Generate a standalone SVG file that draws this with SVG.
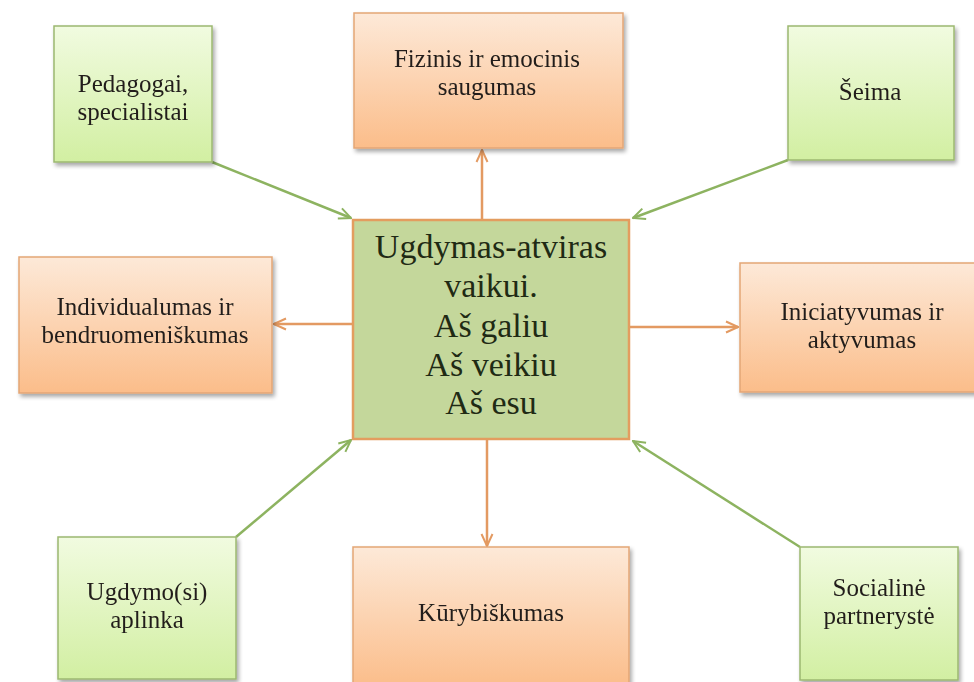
<svg xmlns="http://www.w3.org/2000/svg" width="974" height="682" viewBox="0 0 974 682">
<defs>
<linearGradient id="gOrange" x1="0" y1="0" x2="0" y2="1">
<stop offset="0" stop-color="#fde9d8"/>
<stop offset="1" stop-color="#fbbd8a"/>
</linearGradient>
<linearGradient id="gGreen" x1="0" y1="0" x2="0" y2="1">
<stop offset="0" stop-color="#f1fbe0"/>
<stop offset="1" stop-color="#d2efa2"/>
</linearGradient>
<filter id="sh" x="-10%" y="-10%" width="125%" height="125%">
<feGaussianBlur in="SourceAlpha" stdDeviation="2"/>
<feOffset dx="2" dy="3" result="b"/>
<feComponentTransfer><feFuncA type="linear" slope="0.35"/></feComponentTransfer>
<feMerge><feMergeNode/><feMergeNode in="SourceGraphic"/></feMerge>
</filter>
<marker id="aG" viewBox="0 0 14 14" refX="13" refY="7" markerWidth="14" markerHeight="14" markerUnits="userSpaceOnUse" orient="auto">
<path d="M1,1.5 L13,7 L1,12.5" fill="none" stroke="#8db360" stroke-width="2"/>
</marker>
<marker id="aO" viewBox="0 0 14 14" refX="13" refY="7" markerWidth="14" markerHeight="14" markerUnits="userSpaceOnUse" orient="auto">
<path d="M1,1.5 L13,7 L1,12.5" fill="none" stroke="#e39a62" stroke-width="2"/>
</marker>
</defs>
<style>
.orange{fill:url(#gOrange);stroke:#e3a676;stroke-width:1.5}
.green{fill:url(#gGreen);stroke:#9cb870;stroke-width:1.5}
.center{fill:#c4d79b;stroke:#e39d5f;stroke-width:2.5}
.t{font-family:"Liberation Serif","Times New Roman",serif;font-size:25px;fill:#221f1a;text-anchor:middle}
.tc{font-family:"Liberation Serif","Times New Roman",serif;font-size:34px;fill:#1f2a14;text-anchor:middle}
.cg{fill:none;stroke:#8db360;stroke-width:2.5;marker-end:url(#aG)}
.co{fill:none;stroke:#e39a62;stroke-width:2.5;marker-end:url(#aO)}
</style>
<rect width="974" height="682" fill="#ffffff"/>

<g id="connectors">
<line class="cg" x1="212" y1="162" x2="351" y2="218"/>
<line class="cg" x1="788" y1="160" x2="633" y2="218"/>
<line class="cg" x1="236" y1="537" x2="351" y2="440"/>
<line class="cg" x1="800" y1="547" x2="633" y2="441"/>
<line class="co" x1="482" y1="220" x2="482" y2="150"/>
<line class="co" x1="487" y1="440" x2="487" y2="546"/>
<line class="co" x1="353" y1="324" x2="274" y2="324"/>
<line class="co" x1="629" y1="327" x2="738" y2="327"/>
</g>

<g id="center">
<rect class="center" x="353" y="220" width="276" height="219"/>
<text class="tc" x="491" y="258">Ugdymas-atviras</text>
<text class="tc" x="491" y="297">vaikui.</text>
<text class="tc" x="491" y="337">Aš galiu</text>
<text class="tc" x="491" y="376">Aš veikiu</text>
<text class="tc" x="491" y="414">Aš esu</text>
</g>

<g id="pedagogai" filter="url(#sh)">
<rect class="green" x="54" y="26" width="158" height="136"/>
<text class="t" x="133" y="92">Pedagogai,</text>
<text class="t" x="133" y="120">specialistai</text>
</g>

<g id="fizinis" filter="url(#sh)">
<rect class="orange" x="354" y="13" width="269" height="135"/>
<text class="t" x="487" y="67">Fizinis ir emocinis</text>
<text class="t" x="487" y="95">saugumas</text>
</g>

<g id="seima" filter="url(#sh)">
<rect class="green" x="788" y="26" width="166" height="134"/>
<text class="t" x="870" y="100">Šeima</text>
</g>

<g id="individualumas" filter="url(#sh)">
<rect class="orange" x="19" y="257" width="253" height="136"/>
<text class="t" x="145" y="315">Individualumas ir</text>
<text class="t" x="145" y="343">bendruomeniškumas</text>
</g>

<g id="iniciatyvumas" filter="url(#sh)">
<rect class="orange" x="740" y="263" width="246" height="129"/>
<text class="t" x="862" y="320">Iniciatyvumas ir</text>
<text class="t" x="862" y="348">aktyvumas</text>
</g>

<g id="ugdymo" filter="url(#sh)">
<rect class="green" x="58" y="537" width="178" height="142"/>
<text class="t" x="147" y="600">Ugdymo(si)</text>
<text class="t" x="147" y="628">aplinka</text>
</g>

<g id="kurybiskumas" filter="url(#sh)">
<rect class="orange" x="353" y="547" width="276" height="140"/>
<text class="t" x="491" y="621">Kūrybiškumas</text>
</g>

<g id="socialine" filter="url(#sh)">
<rect class="green" x="800" y="547" width="158" height="133"/>
<text class="t" x="879" y="596">Socialinė</text>
<text class="t" x="879" y="624">partnerystė</text>
</g>
</svg>
